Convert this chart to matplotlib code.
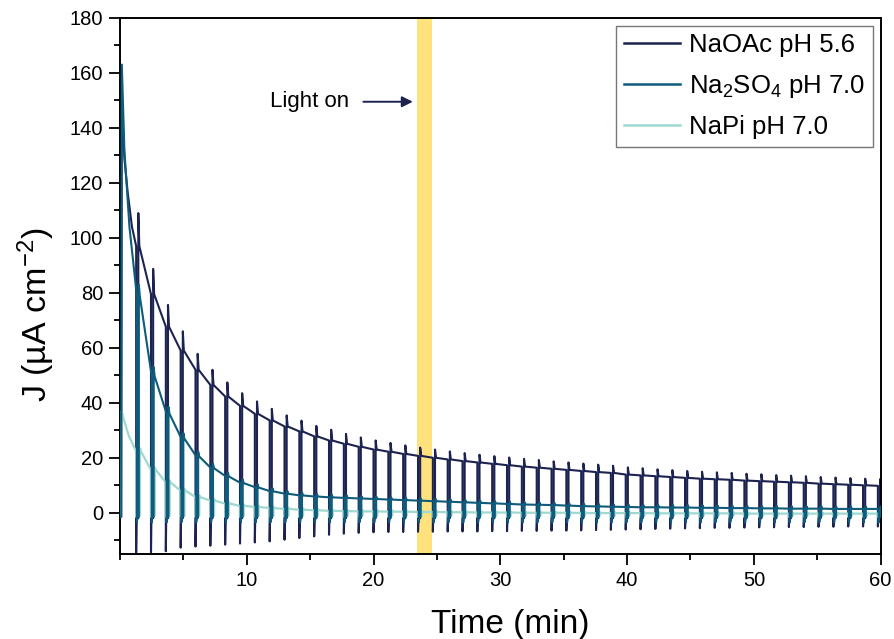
import matplotlib
matplotlib.use("Agg")
import matplotlib.pyplot as plt
from matplotlib.ticker import MultipleLocator
import numpy as np

plt.rcParams["font.family"] = ["Liberation Sans", "DejaVu Sans"]
plt.rcParams["mathtext.fontset"] = "custom"
plt.rcParams["mathtext.rm"] = "Liberation Sans"
plt.rcParams["mathtext.it"] = "Liberation Sans:italic"
plt.rcParams["mathtext.default"] = "regular"

# Chopping program: light is interrupted once per period (times in min)
FIRST_CHOP = 1.28
CHOP_PERIOD = 1.17
N_CHOPS = 51
LIGHT_ON_BAND = (23.45, 24.6)

# --- NaOAc pH 5.6 -----------------------------------------------------------
naoac_start_t = [0.0, 0.10, 0.14, 0.35, 0.60, 0.95]
naoac_start_j = [-1.5, -1.5, 150.0, 129.0, 117.0, 104.0]
naoac_level = [97.0, 79.5, 67.7, 59.0, 52.0, 46.5, 42.3, 38.9, 36.0, 33.6,
               31.4, 29.6, 27.8, 26.3, 25.1, 24.0, 23.0, 22.2, 21.4, 20.7,
               20.0, 19.4, 18.8, 18.3, 17.8, 17.3, 16.8, 16.4, 16.0, 15.6,
               15.2, 14.8, 14.5, 13.9, 13.6, 13.3, 13.0, 12.7, 12.4, 12.2,
               12.0, 11.7, 11.5, 11.3, 11.1, 10.9, 10.6, 10.4, 10.2, 10.0,
               9.8]
naoac_peak = [109.0, 88.7, 75.6, 66.0, 57.8, 52.0, 47.4, 43.5, 40.5, 37.8,
              35.4, 33.5, 31.6, 30.2, 28.7, 27.4, 26.3, 25.4, 24.5, 23.7,
              23.0, 22.3, 21.7, 21.1, 20.6, 20.1, 19.6, 19.2, 18.7, 18.3,
              17.9, 17.5, 17.1, 16.5, 16.2, 15.8, 15.5, 15.2, 14.9, 14.7,
              14.5, 14.2, 14.0, 13.7, 13.5, 13.3, 13.0, 12.8, 12.6, 12.4,
              12.2]
naoac_dip = [-14.5, -14.5, -14.0, -12.7, -12.3, -12.0, -11.6, -11.2, -10.8,
             -10.4, -9.8, -9.2, -8.6, -8.0, -7.6, -7.3, -7.1, -7.0, -7.0,
             -6.9, -6.9, -6.8, -6.8, -6.8, -6.7, -6.7, -6.6, -6.6, -6.5,
             -6.5, -6.4, -6.3, -6.2, -6.1, -6.0, -5.9, -5.8, -5.7, -5.6,
             -5.5, -5.5, -5.4, -5.3, -5.3, -5.2, -5.2, -5.1, -5.1, -5.0,
             -5.0, -5.0]
naoac_dark = -2.0

# --- Na2SO4 pH 7.0 ----------------------------------------------------------
na2so4_start_t = [0.0, 0.10, 0.15, 0.35, 0.75]
na2so4_start_j = [-1.5, -1.5, 163.0, 132.0, 104.0]
na2so4_level = [78.7, 49.6, 36.0, 27.0, 20.5, 16.2, 13.2, 10.8, 9.2, 7.8,
                6.9, 6.3, 5.9, 5.6, 5.4, 5.2, 5.0, 4.8, 4.6, 4.4,
                4.2, 4.0, 3.8, 3.6, 3.4, 3.2, 3.0, 2.9, 2.8, 2.6,
                2.4, 2.3, 2.2, 2.1, 2.0, 2.0, 1.9, 1.9, 1.8, 1.8,
                1.7, 1.7, 1.6, 1.6, 1.5, 1.5, 1.5, 1.4, 1.4, 1.4,
                1.4]
na2so4_peak = [83.0, 53.0, 38.5, 29.0, 22.3, 17.8, 14.6, 12.1, 10.4, 9.0,
               8.0, 7.4, 6.9, 6.6, 6.4, 6.1, 5.9, 5.7, 5.5, 5.3,
               5.1, 4.9, 4.7, 4.5, 4.3, 4.1, 3.9, 3.8, 3.7, 3.5,
               3.3, 3.2, 3.1, 3.0, 2.9, 2.9, 2.8, 2.8, 2.7, 2.7,
               2.6, 2.6, 2.5, 2.5, 2.4, 2.4, 2.4, 2.3, 2.3, 2.3,
               2.3]
na2so4_dip = -3.5
na2so4_dark = -1.5

# --- NaPi pH 7.0 ------------------------------------------------------------
napi_start_t = [0.0, 0.10, 0.14, 0.30, 0.70]
napi_start_j = [-1.5, -1.5, 37.0, 34.0, 28.0]
napi_level = [22.3, 15.6, 11.0, 8.0, 5.7, 4.4, 3.3, 2.5, 2.1, 1.7,
              1.4, 1.1, 0.9, 0.7, 0.6, 0.5, 0.5, 0.4, 0.4, 0.3,
              0.3, 0.2, 0.2, 0.1, 0.1, 0.1, 0.0, 0.0, 0.0, 0.0,
              -0.1, -0.1, -0.1, -0.1, -0.1, -0.2, -0.2, -0.2, -0.2, -0.2,
              -0.2, -0.3, -0.3, -0.3, -0.3, -0.3, -0.3, -0.3, -0.3, -0.3,
              -0.3]
napi_peak = [23.5, 16.5, 11.8, 8.7, 6.3, 5.0, 3.9, 3.1, 2.6, 2.2,
             1.9, 1.6, 1.4, 1.2, 1.0, 1.0, 0.9, 0.9, 0.8, 0.8,
             0.7, 0.6, 0.6, 0.5, 0.5, 0.5, 0.4, 0.4, 0.4, 0.4,
             0.3, 0.3, 0.3, 0.3, 0.3, 0.2, 0.2, 0.2, 0.2, 0.2,
             0.2, 0.1, 0.1, 0.1, 0.1, 0.1, 0.1, 0.1, 0.1, 0.1,
             0.1]
napi_dip = -1.5
napi_dark = -1.0

NAVY = "#1c2350"
TEAL = "#0e5b7b"
PALE = "#9fd8d1"
YELLOW = "#ffe27d"


def chopped_trace(start_t, start_j, level, peak, dip, dark, shift, off_time):
    """Build the chopped-light transient from per-chop readings."""
    dip = np.broadcast_to(dip, (N_CHOPS,))
    t = list(start_t)
    j = list(start_j)
    for k in range(N_CHOPS):
        t0 = FIRST_CHOP + CHOP_PERIOD * k + shift
        t1 = t0 + off_time
        t += [t0, t0, t0 + 0.03, t1, t1, t1 + 0.08]
        j += [level[k], dip[k], dark, dark, peak[k], level[k]]
    t.append(60.0)
    j.append(level[-1])
    return np.array(t), np.array(j)


fig = plt.figure(figsize=(8.95, 6.39), dpi=100)
ax = fig.add_axes([0.134, 0.133, 0.850, 0.839])

ax.axvspan(*LIGHT_ON_BAND, color=YELLOW, lw=0, zorder=1)

t, j = chopped_trace(naoac_start_t, naoac_start_j, naoac_level, naoac_peak,
                     naoac_dip, naoac_dark, 0.0, 0.17)
l1, = ax.plot(t, j, color=NAVY, lw=1.5, zorder=2, label="NaOAc pH 5.6")

t, j = chopped_trace(napi_start_t, napi_start_j, napi_level, napi_peak,
                     napi_dip, napi_dark, 0.0, 0.3)
l3, = ax.plot(t, j, color=PALE, lw=1.6, zorder=3, label="NaPi pH 7.0")

t, j = chopped_trace(na2so4_start_t, na2so4_start_j, na2so4_level,
                     na2so4_peak, na2so4_dip, na2so4_dark, 0.06, 0.15)
l2, = ax.plot(t, j, color=TEAL, lw=1.5, zorder=4,
              label="Na$_2$SO$_4$ pH 7.0")

# "Light on" marker
ax.annotate("", xy=(23.1, 149.5), xytext=(19.2, 149.5),
            arrowprops=dict(arrowstyle="-|>", color=NAVY, lw=1.4,
                            mutation_scale=16, shrinkA=0, shrinkB=0))
ax.text(11.8, 149.5, "Light on", fontsize=16, va="center", ha="left")

ax.set_xlim(0, 60)
ax.set_ylim(-15, 180)
ax.xaxis.set_minor_locator(MultipleLocator(5))
ax.yaxis.set_minor_locator(MultipleLocator(10))
ax.set_xticks([10, 20, 30, 40, 50, 60])
ax.set_yticks(np.arange(0, 181, 20))
ax.tick_params(which="both", direction="out", top=False, right=False,
               width=1.3, labelsize=14.5, pad=4)
ax.tick_params(which="major", length=8)
ax.tick_params(which="minor", length=4)
for sp in ax.spines.values():
    sp.set_linewidth(1.4)

fig.text(510 / 895, 1 - 624 / 639, "Time (min)", fontsize=24,
         ha="center", va="center")
fig.text(36 / 895, 1 - 315 / 639, "J (µA cm$^{-2}$)", fontsize=24.5,
         rotation=90, ha="center", va="center")

leg = ax.legend(handles=[l1, l2, l3], loc="upper right", fontsize=18.5,
                frameon=True, fancybox=False, framealpha=1,
                edgecolor="#777777", borderaxespad=0.3, handlelength=2.2,
                handletextpad=0.35, labelspacing=0.6, borderpad=0.3)
leg.get_frame().set_linewidth(1.0)
for h in leg.get_lines():
    h.set_linewidth(1.8)

fig.savefig("out.png", dpi=100)
